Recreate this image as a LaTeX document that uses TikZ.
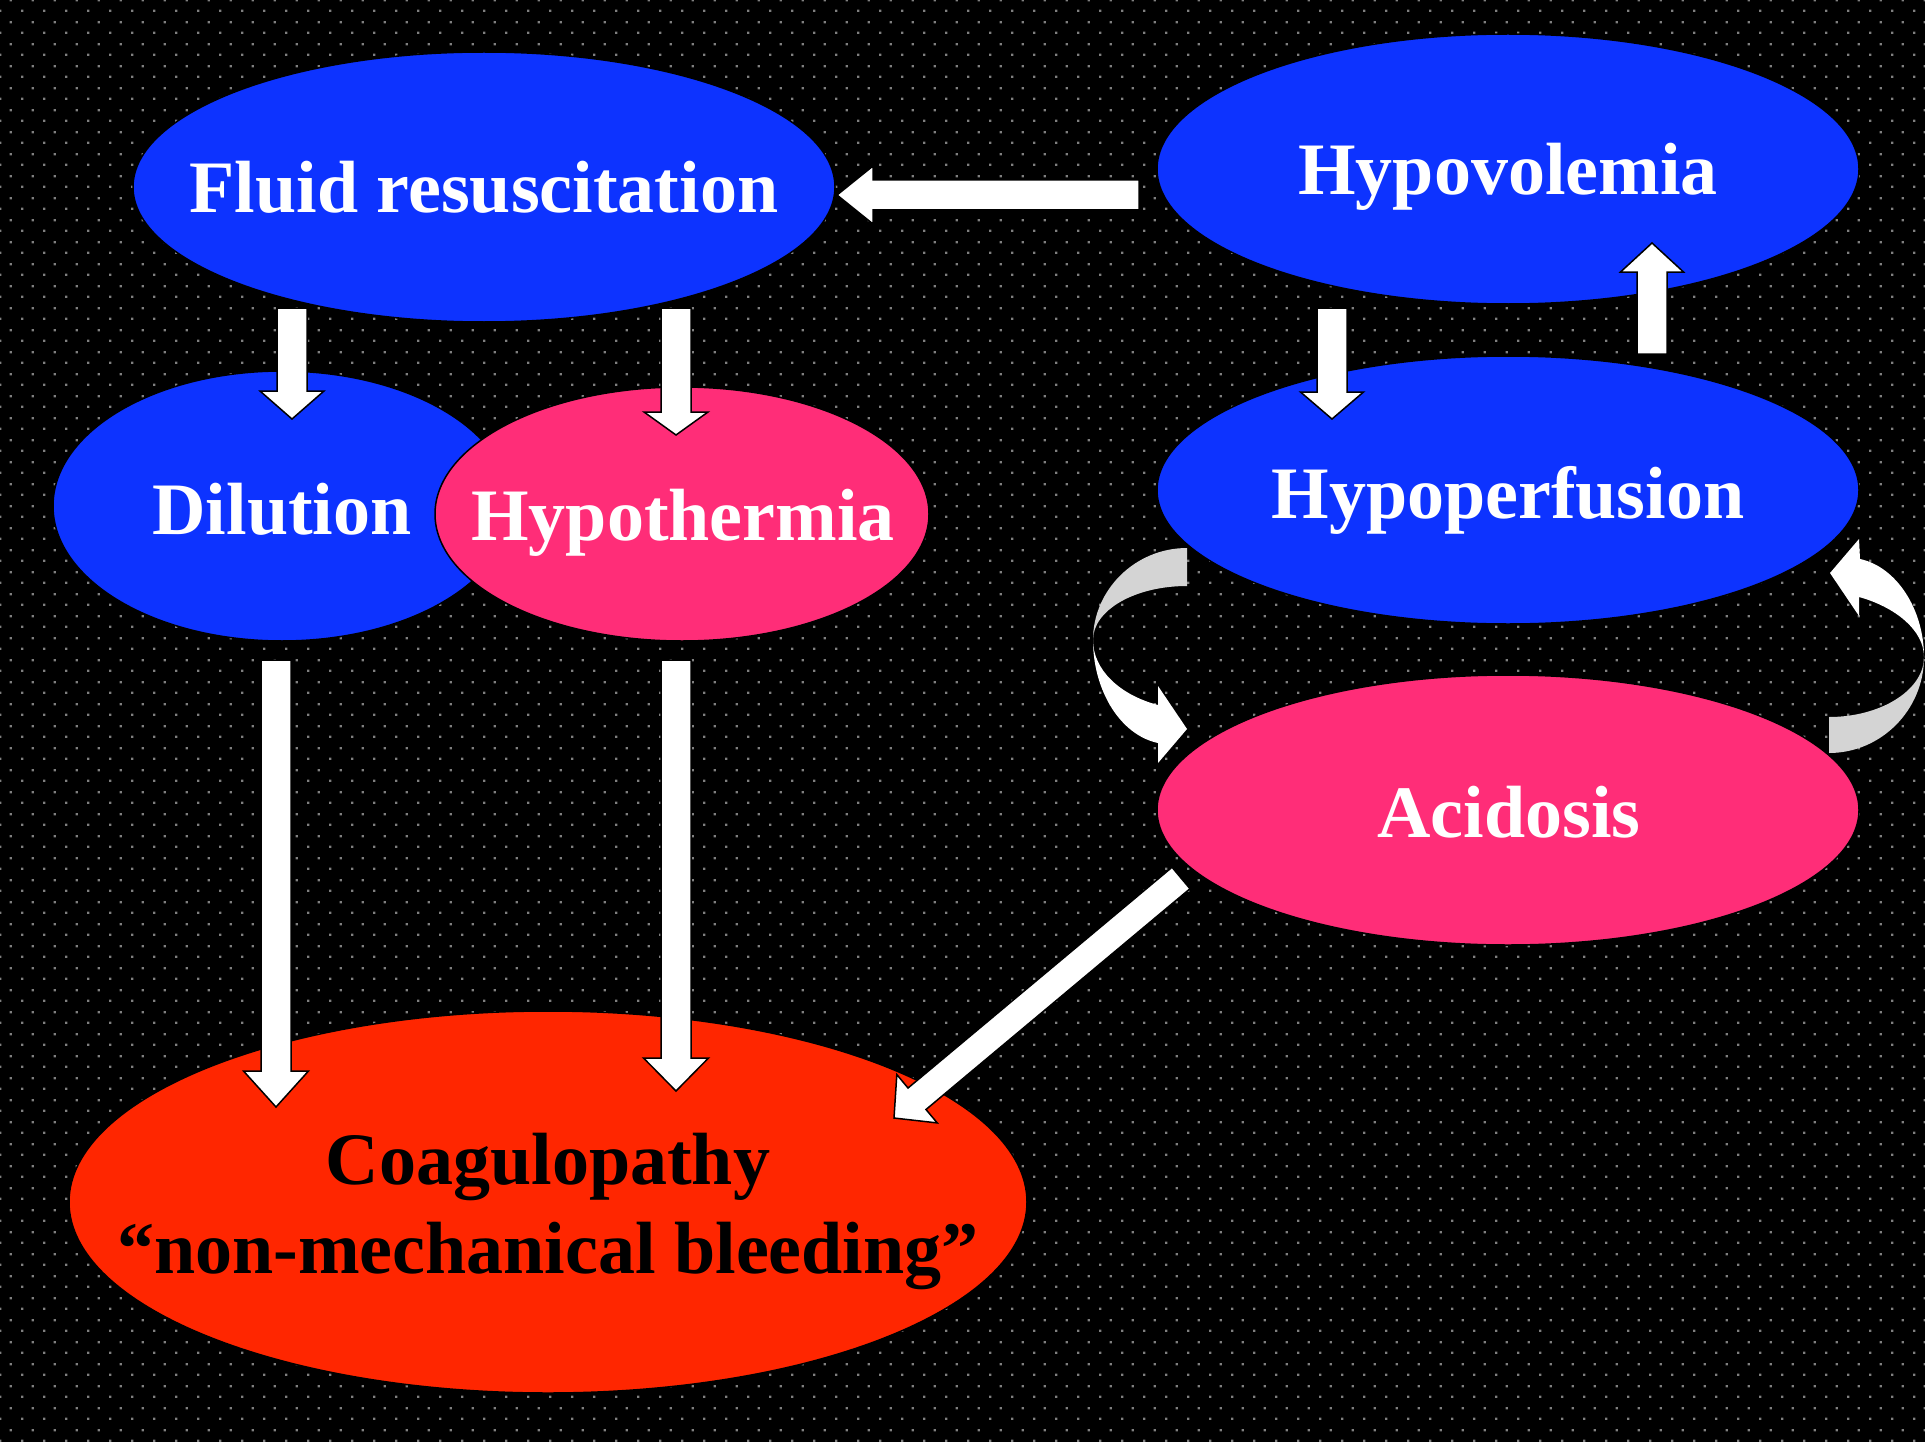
\documentclass[tikz,border=0pt]{standalone}
\usepackage{fontspec}
\setmainfont{Liberation Serif}
\usetikzlibrary{shapes.geometric,calc,patterns.meta}
\definecolor{ellblue}{RGB}{13,51,255}
\definecolor{ellpink}{RGB}{255,45,120}
\definecolor{ellred}{RGB}{255,38,0}
\definecolor{backgrey}{RGB}{212,212,212}
\definecolor{dotgrey}{RGB}{128,128,128}
\tikzdeclarepattern{
  name=bgdots, type=colored,
  bounding box={(0pt,0pt) and (22pt,22pt)},
  tile size={(22pt,22pt)},
  code={
    \fill[dotgrey] (0pt,0pt) rectangle (2.4pt,2.4pt);
    \fill[dotgrey] (11pt,11pt) rectangle (13.4pt,13.4pt);
  }
}
\tikzset{
  ell/.style={ellipse, draw=black, line width=1.5pt, inner sep=0pt},
  lbl/.style={font=\fontsize{74}{88}\selectfont\bfseries, text=white, anchor=base, inner sep=0pt},
  blockarrow/.style={fill=white, draw=black, line width=1.5pt, line join=miter},
  curvefront/.style={fill=white},
  curveback/.style={fill=backgrey}
}
% #1 tail, #2 tip, #3 shaft half width, #4 head half width, #5 head length
\newcommand\blockarr[5]{%
  \coordinate (#1#2h) at ($(#2)!#5!(#1)$);
  \draw[blockarrow] ($(#1)!#3!90:(#2)$) -- ($(#1#2h)!#3!90:(#2)$) -- ($(#1#2h)!#4!90:(#2)$)
    -- (#2) -- ($(#1#2h)!#4!-90:(#2)$) -- ($(#1#2h)!#3!-90:(#2)$) -- ($(#1)!#3!-90:(#2)$) -- cycle;
}
\begin{document}
\begin{tikzpicture}[x=1pt,y=-1pt]
\useasboundingbox (0,0) rectangle (1925,1442);
\fill[black] (0,0) rectangle (1925,1442);
\fill[pattern=bgdots] (0,0) rectangle (1925,1442);

% ellipses
\node[ell, fill=ellblue, minimum width=702pt, minimum height=270pt] (fluid) at (484,187) {};
\node[ell, fill=ellblue, minimum width=702pt, minimum height=270pt] (hypovol) at (1508,169) {};
\node[ell, fill=ellblue, minimum width=458pt, minimum height=270pt] (dil) at (282,506) {};
\node[ell, fill=ellpink, minimum width=494pt, minimum height=254pt] (hypoth) at (682,514) {};
\node[ell, fill=ellblue, minimum width=702pt, minimum height=268pt] (hypoperf) at (1508,490) {};
\node[ell, fill=ellpink, minimum width=702pt, minimum height=270pt] (acid) at (1508,810) {};
\node[ell, fill=ellred, minimum width=958pt, minimum height=382pt] (coag) at (548,1202) {};

% labels
\node[lbl] (fluidT) at (484,213) {Fluid resuscitation};
\node[lbl] (hypovolT) at (1508,195) {Hypovolemia};
\node[lbl] (dilT) at (282,534) {Dilution};
\node[lbl] (hypothT) at (683,540) {Hypothermia};
\node[lbl] (hypoperfT) at (1508,518) {Hypoperfusion};
\node[lbl] (acidT) at (1509,837) {Acidosis};
\node[lbl, text=black] (coagTa) at (548,1184) {Coagulopathy};
\node[lbl, text=black] (coagTb) at (548,1273) {“non-mechanical bleeding”};

% arrow end points
\coordinate (hvflS) at (1139,195);  \coordinate (hvflE) at (837,195);
\coordinate (fldiS) at (292,308);   \coordinate (fldiE) at (292,419);
\coordinate (flhtS) at (676,308);   \coordinate (flhtE) at (676,435);
\coordinate (hvhpS) at (1332,308);  \coordinate (hvhpE) at (1332,419);
\coordinate (hphvS) at (1652,354);  \coordinate (hphvE) at (1652,243);
\coordinate (dicoS) at (276,660);   \coordinate (dicoE) at (276,1107);
\coordinate (htcoS) at (676,660);   \coordinate (htcoE) at (676,1091);
\coordinate (accoS) at (1181,878);  \coordinate (accoE) at (894,1118);

\blockarr{hvflS}{hvflE}{15pt}{29pt}{36pt}
\blockarr{fldiS}{fldiE}{15pt}{32pt}{28pt}
\blockarr{flhtS}{flhtE}{15pt}{32pt}{23pt}
\blockarr{hvhpS}{hvhpE}{15pt}{31.5pt}{27pt}
\blockarr{hphvS}{hphvE}{15pt}{31.5pt}{29pt}
\blockarr{dicoS}{dicoE}{15pt}{32.5pt}{36pt}
\blockarr{htcoS}{htcoE}{15pt}{32.5pt}{33pt}
\blockarr{accoS}{accoE}{14pt}{31.5pt}{30pt}

% left curved arrow (hypoperfusion -> acidosis)
\fill[curveback] (1187,548) .. controls (1135,548) and (1093,590) .. (1093,640)
  .. controls (1093,610) and (1135,586) .. (1187,586) -- cycle;
\fill[curvefront] (1093,640) .. controls (1093,690) and (1120,735) .. (1158,743)
  -- (1158,763) -- (1187,729) -- (1158,686) -- (1158,705)
  .. controls (1120,695) and (1093,670) .. (1093,640) -- cycle;

% right curved arrow (acidosis -> hypoperfusion)
\fill[curveback] (1829,753) .. controls (1881,753) and (1924,710) .. (1924,657)
  .. controls (1924,690) and (1881,717) .. (1829,717) -- cycle;
\fill[curvefront] (1924,657) .. controls (1924,610) and (1897,567) .. (1860,559)
  -- (1859,539) -- (1830,573) -- (1859,616) -- (1859,597)
  .. controls (1895,607) and (1924,630) .. (1924,657) -- cycle;
\end{tikzpicture}
\end{document}
